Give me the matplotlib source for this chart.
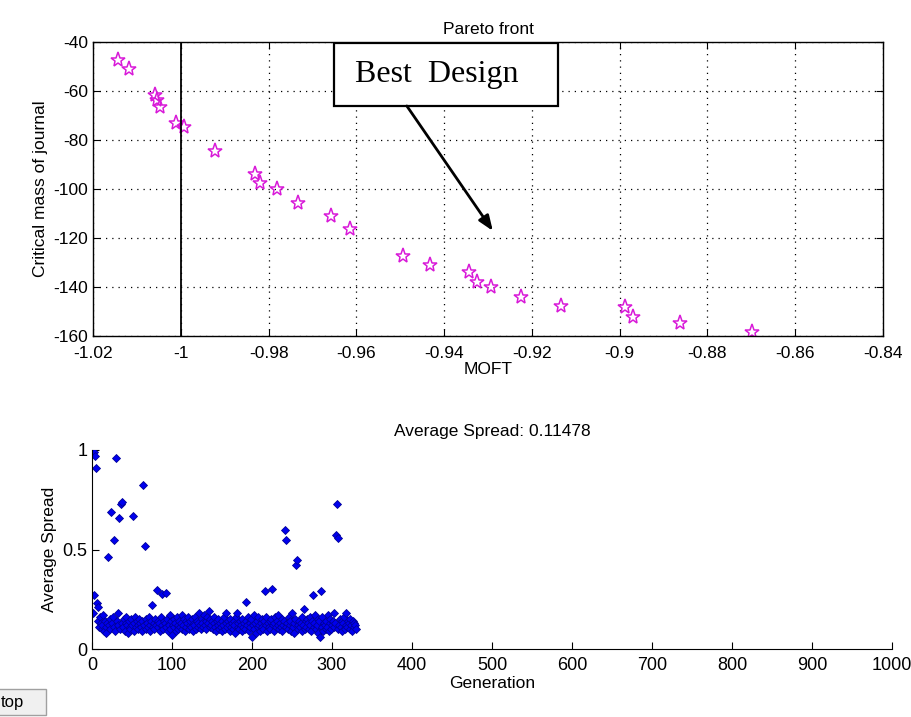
import matplotlib.pyplot as plt
from matplotlib.patches import Rectangle
import numpy as np

plt.rcParams['font.family'] = ['Liberation Sans', 'DejaVu Sans']
plt.rcParams['axes.unicode_minus'] = False

# pareto front points
moft = [-1.0143, -1.0118, -1.0058, -1.0055, -1.0048, -1.0011, -0.9993, -0.9923,
        -0.9830, -0.9819, -0.9780, -0.9734, -0.9657, -0.9614, -0.9493, -0.9433,
        -0.9343, -0.9324, -0.9294, -0.9226, -0.9133, -0.8989, -0.8970, -0.8862,
        -0.8699]
crit_mass = [-47.3, -51.0, -61.6, -63.7, -66.4, -72.9, -74.6, -84.4,
             -93.9, -97.7, -100.0, -105.8, -110.9, -116.4, -127.2, -131.0,
             -134.0, -138.1, -139.9, -144.0, -147.8, -148.0, -152.4, -154.8,
             -158.2]

# average spread per generation
spread = [
    0.18, 0.99, 0.27, 0.97, 0.91, 0.23, 0.21, 0.14, 0.11, 0.16,
    0.13, 0.10, 0.12, 0.17, 0.09, 0.14, 0.11, 0.08, 0.13, 0.46,
    0.12, 0.15, 0.10, 0.69, 0.13, 0.16, 0.11, 0.55, 0.09, 0.96,
    0.14, 0.12, 0.18, 0.66, 0.10, 0.73, 0.13, 0.74, 0.11, 0.15,
    0.09, 0.13, 0.16, 0.12, 0.08, 0.14, 0.11, 0.10, 0.15, 0.12,
    0.67, 0.13, 0.09, 0.16, 0.11, 0.14, 0.12, 0.10, 0.15, 0.13,
    0.11, 0.09, 0.14, 0.825, 0.12, 0.52, 0.15, 0.10, 0.13, 0.11,
    0.16, 0.12, 0.09, 0.14, 0.22, 0.11, 0.13, 0.10, 0.15, 0.12,
    0.295, 0.14, 0.11, 0.13, 0.09, 0.16, 0.275, 0.12, 0.10, 0.14,
    0.13, 0.11, 0.28, 0.15, 0.09, 0.12, 0.17, 0.10, 0.14, 0.07,
    0.12, 0.15, 0.11, 0.13, 0.09, 0.16, 0.12, 0.10, 0.14, 0.11,
    0.13, 0.17, 0.10, 0.12, 0.15, 0.09, 0.14, 0.11, 0.13, 0.16,
    0.10, 0.12, 0.14, 0.11, 0.15, 0.09, 0.13, 0.12, 0.16, 0.10,
    0.14, 0.11, 0.13, 0.18, 0.12, 0.10, 0.15, 0.13, 0.11, 0.17,
    0.12, 0.14, 0.10, 0.16, 0.13, 0.19, 0.11, 0.15, 0.12, 0.14,
    0.10, 0.13, 0.16, 0.11, 0.09, 0.14, 0.12, 0.15, 0.10, 0.13,
    0.11, 0.14, 0.09, 0.12, 0.16, 0.10, 0.13, 0.18, 0.11, 0.14,
    0.12, 0.09, 0.15, 0.11, 0.13, 0.10, 0.14, 0.12, 0.08, 0.16,
    0.18, 0.11, 0.13, 0.10, 0.14, 0.12, 0.09, 0.15, 0.11, 0.13,
    0.10, 0.14, 0.235, 0.12, 0.16, 0.09, 0.13, 0.11, 0.15, 0.06,
    0.12, 0.17, 0.10, 0.13, 0.08, 0.14, 0.11, 0.16, 0.12, 0.09,
    0.13, 0.15, 0.11, 0.10, 0.14, 0.29, 0.12, 0.16, 0.09, 0.13,
    0.11, 0.14, 0.10, 0.15, 0.30, 0.12, 0.13, 0.09, 0.16, 0.11,
    0.14, 0.12, 0.17, 0.10, 0.13, 0.11, 0.15, 0.09, 0.12, 0.14,
    0.60, 0.55, 0.11, 0.13, 0.10, 0.16, 0.12, 0.14, 0.09, 0.18,
    0.11, 0.13, 0.08, 0.15, 0.42, 0.445, 0.12, 0.10, 0.14, 0.11,
    0.13, 0.16, 0.09, 0.12, 0.20, 0.10, 0.14, 0.11, 0.15, 0.13,
    0.10, 0.12, 0.16, 0.09, 0.14, 0.27, 0.11, 0.13, 0.17, 0.10,
    0.12, 0.15, 0.08, 0.14, 0.06, 0.29, 0.11, 0.16, 0.09, 0.13,
    0.12, 0.10, 0.14, 0.11, 0.17, 0.09, 0.13, 0.15, 0.10, 0.12,
    0.14, 0.11, 0.18, 0.13, 0.575, 0.73, 0.56, 0.10, 0.12, 0.15,
    0.11, 0.14, 0.09, 0.13, 0.16, 0.10, 0.12, 0.18, 0.11, 0.14,
    0.13, 0.10, 0.15, 0.12, 0.09, 0.14, 0.11, 0.13, 0.12, 0.10,
]
generation = np.arange(1, len(spread) + 1)

x_ticks = [-1.02, -1.0, -0.98, -0.96, -0.94, -0.92, -0.9, -0.88, -0.86, -0.84]
x_labels = ['-1.02', '-1', '-0.98', '-0.96', '-0.94', '-0.92', '-0.9', '-0.88', '-0.86', '-0.84']
y_ticks = [-160, -140, -120, -100, -80, -60, -40]

fig = plt.figure(figsize=(9.11, 7.17), dpi=100)

# --- top: pareto front ---
ax1 = fig.add_axes([0.1021, 0.5314, 0.8672, 0.41])
ax1.plot(moft, crit_mass, linestyle='none', marker='*', ms=11, mfc='none',
         mec='#d81ad8', mew=1.1)
ax1.axvline(-1.0, color='black', lw=1.3)
ax1.set_xlim(-1.02, -0.84)
ax1.set_ylim(-160, -40)
ax1.set_xticks(x_ticks)
ax1.set_xticklabels(x_labels)
ax1.set_yticks(y_ticks)
ax1.grid(True, linestyle=(0, (1, 4)), color='black', lw=0.9)
ax1.tick_params(direction='in', labelsize=12.5, length=5, top=True, right=True)
ax1.tick_params(axis='x', pad=7)
for s in ax1.spines.values():
    s.set_linewidth(1.0)
ax1.set_title('Pareto front', fontsize=12.5, pad=6)
ax1.set_xlabel('MOFT', fontsize=12.5, labelpad=1)
ax1.set_ylabel('Critical mass of journal', fontsize=12.5, labelpad=4)

# annotation box + arrow
ax1.add_patch(Rectangle((-0.9651, -66.1), 0.051, 25.7, facecolor='white',
                        edgecolor='black', lw=1.6, zorder=5))
ax1.text(-0.9417, -53.1, 'Best  Design', fontsize=23, family='Liberation Serif',
         ha='center', va='center', zorder=6)
ax1.annotate('', xy=(-0.9289, -117.1), xytext=(-0.9485, -66.1),
             arrowprops=dict(arrowstyle='-|>,head_length=0.9,head_width=0.35',
                             color='black', lw=2, shrinkA=0, shrinkB=0),
             zorder=6)

# --- bottom: average spread ---
ax2 = fig.add_axes([0.101, 0.0948, 0.878, 0.2776])
ax2.plot(generation, spread, linestyle='none', marker='D', ms=4.3,
         mfc='#0000ee', mec='#000099', mew=0.6)
ax2.set_xlim(0, 1000)
ax2.set_ylim(0, 1)
ax2.set_xticks(np.arange(0, 1001, 100))
ax2.set_yticks([0, 0.5, 1])
ax2.set_yticklabels(['0', '0.5', '1'])
ax2.spines['top'].set_visible(False)
ax2.spines['right'].set_visible(False)
ax2.tick_params(direction='in', labelsize=13, length=5)
ax2.tick_params(axis='x', pad=6)
ax2.set_title('Average Spread: 0.11478', fontsize=12.5, pad=10)
ax2.set_xlabel('Generation', fontsize=12.5, labelpad=1)
ax2.set_ylabel('Average Spread', fontsize=12.5, labelpad=4)

# leftover gui button at the bottom left
fig.patches.append(Rectangle((-2, 2), 48, 26, transform=None, facecolor='#f0f0f0',
                             edgecolor='#a0a0a0', lw=1))
fig.text(1 / 911, 14 / 717, 'top', fontsize=12, va='center', ha='left')

fig.savefig('out.png', dpi=100)
